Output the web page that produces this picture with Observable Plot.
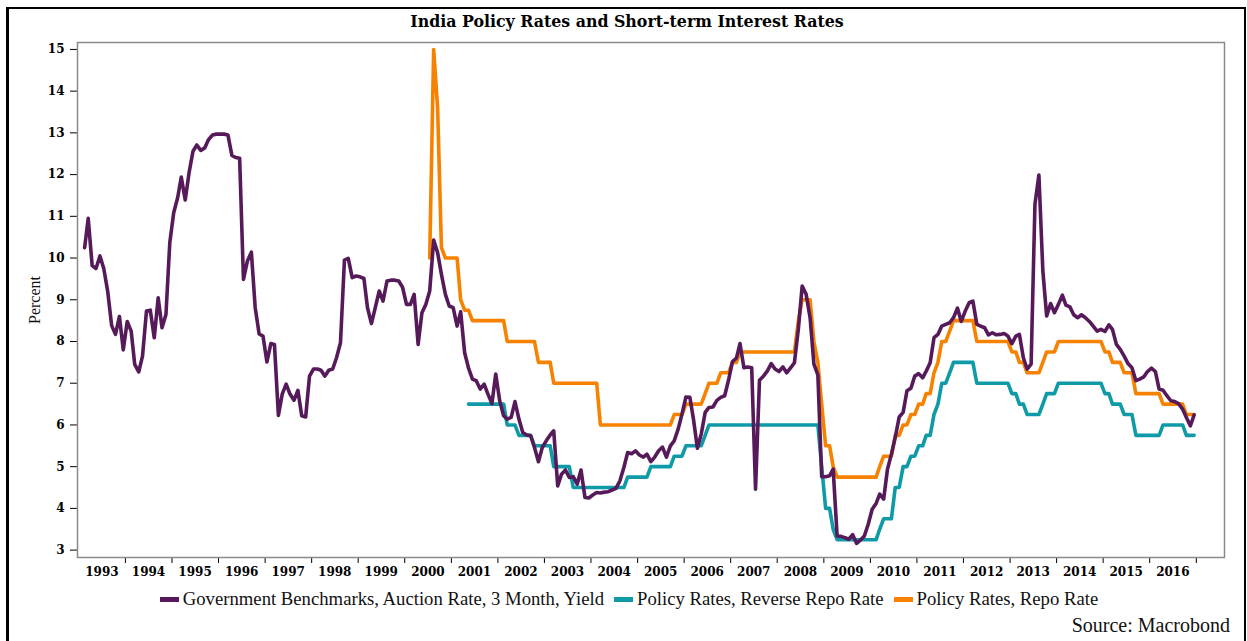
<!DOCTYPE html>
<html>
<head>
<meta charset="utf-8">
<script src="https://cdn.jsdelivr.net/npm/d3@7"></script>
<script src="https://cdn.jsdelivr.net/npm/@observablehq/plot@0.6"></script>
<style>
  html, body { margin: 0; padding: 0; background: #fff; overflow: hidden; }
  #wrap { position: relative; width: 1247px; height: 641px; overflow: hidden; background: #fff; }
  #border { position: absolute; left: 6px; top: 7px; width: 1235px; height: 700px;
            border-left: 3px solid #000; border-top: 2.5px solid #000; border-right: 2.5px solid #000; z-index: 3; }
  #chart { position: absolute; left: 0; top: 0; z-index: 1; }
  #title { position: absolute; top: 12px; left: 0; width: 1254px; text-align: center; z-index: 2;
           font: bold 15.8px "DejaVu Serif", serif; color: #000; white-space: nowrap; }
  #legend { position: absolute; top: 589px; left: 0; width: 1258px; text-align: center; z-index: 2;
            font: 18.7px "Liberation Serif", serif; color: #111; white-space: nowrap; line-height: 20px; }
  #legend .item { display: inline-block; margin: 0 5px; }
  #legend .sw { display: inline-block; width: 19px; height: 5px; margin-right: 4px; vertical-align: middle; position: relative; top: -1px; }
  #source { position: absolute; top: 614px; right: 17px; z-index: 2;
            font: 20px "Liberation Serif", serif; color: #111; white-space: nowrap; }
</style>
</head>
<body>
<div id="wrap">
  <div id="chart"></div>
  <div id="title"></div>
  <div id="legend"></div>
  <div id="source"></div>
  <div id="border"></div>
</div>
<script>
// ---------------- data ----------------
const titleText = "India Policy Rates and Short-term Interest Rates";
const sourceText = "Source: Macrobond";
const yAxisLabel = "Percent";
const seriesNames = [
  "Government Benchmarks, Auction Rate, 3 Month, Yield",
  "Policy Rates, Reverse Repo Rate",
  "Policy Rates, Repo Rate"
];
const seriesColors = ["#561a5a", "#0f9aa8", "#f78200"];

const yTicks = [3, 4, 5, 6, 7, 8, 9, 10, 11, 12, 13, 14, 15];
const yearLabels = ["1993","1994","1995","1996","1997","1998","1999","2000","2001","2002","2003","2004",
                    "2005","2006","2007","2008","2009","2010","2011","2012","2013","2014","2015","2016"];

// 3-month T-bill auction yield, monthly from Feb 1993
const tbillStart = "1993-02";
const tbillValues = [
  10.25, 10.95, 9.82, 9.75, 10.05, 9.75, 9.2, 8.38, 8.17, 8.6, 7.8,
  8.48, 8.25, 7.45, 7.27, 7.65, 8.73, 8.75, 8.09, 9.05, 8.33, 8.65, 10.37,
  11.09, 11.45, 11.94, 11.39, 12.04, 12.56, 12.71, 12.58, 12.64, 12.84, 12.95, 12.97,
  12.97, 12.97, 12.95, 12.46, 12.41, 12.39, 9.49, 9.93, 10.14, 8.81, 8.18, 8.13,
  7.51, 7.95, 7.93, 6.23, 6.74, 6.98, 6.74, 6.59, 6.83, 6.22, 6.19, 7.17,
  7.34, 7.34, 7.31, 7.17, 7.31, 7.34, 7.61, 7.97, 9.95, 9.99, 9.53, 9.57,
  9.55, 9.51, 8.81, 8.43, 8.81, 9.21, 8.97, 9.45, 9.47, 9.47, 9.45, 9.3,
  8.89, 8.89, 9.13, 7.93, 8.69, 8.89, 9.21, 10.43, 10.13, 9.61, 9.13, 8.85,
  8.81, 8.37, 8.71, 7.73, 7.37, 7.10, 7.06, 6.86, 6.98, 6.74, 6.51, 7.22,
  6.58, 6.22, 6.14, 6.18, 6.56, 6.14, 5.82, 5.76, 5.74, 5.46, 5.12, 5.46,
  5.62, 5.76, 5.86, 4.54, 4.82, 4.92, 4.74, 4.76, 4.58, 4.92, 4.26, 4.25,
  4.32, 4.38, 4.37, 4.39, 4.40, 4.44, 4.48, 4.66, 4.98, 5.34, 5.31, 5.38,
  5.28, 5.23, 5.30, 5.12, 5.23, 5.38, 5.47, 5.23, 5.50, 5.62, 5.90, 6.26,
  6.67, 6.66, 6.14, 5.44, 5.78, 6.30, 6.42, 6.43, 6.59, 6.66, 6.70, 7.07,
  7.52, 7.6, 7.95, 7.37, 7.39, 7.37, 4.46, 7.07, 7.17, 7.29, 7.47, 7.34,
  7.28, 7.39, 7.25, 7.37, 7.49, 8.3, 9.33, 9.13, 8.57, 7.46, 7.20, 4.76,
  4.76, 4.78, 4.94, 3.34, 3.33, 3.30, 3.26, 3.37, 3.16, 3.24, 3.34, 3.62,
  3.98, 4.12, 4.34, 4.22, 4.94, 5.3, 5.7, 6.19, 6.30, 6.82, 6.88, 7.17,
  7.23, 7.13, 7.29, 7.49, 8.09, 8.17, 8.37, 8.41, 8.45, 8.57, 8.80, 8.48,
  8.73, 8.93, 8.97, 8.41, 8.37, 8.33, 8.16, 8.21, 8.16, 8.17, 8.19, 8.13,
  7.95, 8.13, 8.17, 7.61, 7.34, 7.46, 11.29, 11.99, 9.69, 8.61, 8.91, 8.69,
  8.89, 9.11, 8.87, 8.83, 8.64, 8.57, 8.64, 8.57, 8.48, 8.37, 8.25, 8.29,
  8.24, 8.40, 8.29, 7.93, 7.81, 7.65, 7.47, 7.37, 7.06, 7.10, 7.15, 7.28,
  7.36, 7.28, 6.86, 6.83, 6.70, 6.58, 6.56, 6.51, 6.38, 6.18, 5.98, 6.24
];

// Reverse repo rate: months where the line has a vertex, and the rate there
const revRepoMonths = [
  "2001-05","2002-02","2002-03","2002-05","2002-06","2002-09","2002-10","2003-02","2003-03","2003-07",
  "2003-08","2004-09","2004-10","2005-03","2005-04","2005-09","2005-10","2005-12","2006-01","2006-05",
  "2006-06","2006-07","2008-11","2008-12","2009-01","2009-02","2009-03","2009-04","2010-02","2010-03",
  "2010-04","2010-06","2010-07","2010-08","2010-09","2010-10","2010-11","2010-12","2011-01","2011-02",
  "2011-03","2011-04","2011-05","2011-06","2011-07","2011-08","2011-09","2011-10","2012-03","2012-04",
  "2012-12","2013-01","2013-02","2013-03","2013-04","2013-05","2013-08","2013-09","2013-10","2013-12",
  "2014-01","2014-12","2015-01","2015-02","2015-03","2015-05","2015-06","2015-08","2015-09","2016-03",
  "2016-04","2016-09","2016-10","2016-12"
];
const revRepoValues = [
  6.5, 6.5, 6.0, 6.0, 5.75, 5.75, 5.5, 5.5, 5.0, 5.0,
  4.5, 4.5, 4.75, 4.75, 5.0, 5.0, 5.25, 5.25, 5.5, 5.5,
  5.75, 6.0, 6.0, 5.0, 4.0, 4.0, 3.5, 3.25, 3.25, 3.5,
  3.75, 3.75, 4.5, 4.5, 5.0, 5.0, 5.25, 5.25, 5.5, 5.5,
  5.75, 5.75, 6.25, 6.5, 7.0, 7.0, 7.25, 7.5, 7.5, 7.0,
  7.0, 6.75, 6.75, 6.5, 6.5, 6.25, 6.25, 6.5, 6.75, 6.75,
  7.0, 7.0, 6.75, 6.75, 6.5, 6.5, 6.25, 6.25, 5.75, 5.75,
  6.0, 6.0, 5.75, 5.75
];

// Repo rate: months where the line has a vertex, and the rate there
const repoMonths = [
  "2000-07","2000-08","2000-09","2000-10","2000-11","2001-02","2001-03","2001-04","2001-05","2001-06",
  "2002-02","2002-03","2002-10","2002-11","2003-02","2003-03","2004-02","2004-03","2005-09","2005-10",
  "2005-12","2006-01","2006-05","2006-06","2006-07","2006-09","2006-10","2006-12","2007-01","2007-02",
  "2007-03","2008-05","2008-06","2008-07","2008-09","2008-10","2008-11","2008-12","2009-01","2009-02",
  "2009-03","2009-04","2010-02","2010-03","2010-04","2010-06","2010-07","2010-08","2010-09","2010-10",
  "2010-11","2010-12","2011-01","2011-02","2011-03","2011-04","2011-05","2011-06","2011-07","2011-08",
  "2011-09","2011-10","2012-03","2012-04","2012-12","2013-01","2013-02","2013-03","2013-04","2013-05",
  "2013-08","2013-09","2013-10","2013-12","2014-01","2014-12","2015-01","2015-02","2015-03","2015-05",
  "2015-06","2015-08","2015-09","2016-03","2016-04","2016-09","2016-10","2016-12"
];
const repoValues = [
  10.0, 15.0, 13.6, 10.25, 10.0, 10.0, 9.0, 8.75, 8.75, 8.5,
  8.5, 8.0, 8.0, 7.5, 7.5, 7.0, 7.0, 6.0, 6.0, 6.25,
  6.25, 6.5, 6.5, 6.75, 7.0, 7.0, 7.25, 7.25, 7.5, 7.5,
  7.75, 7.75, 8.5, 9.0, 9.0, 8.0, 7.5, 6.5, 5.5, 5.5,
  5.0, 4.75, 4.75, 5.0, 5.25, 5.25, 5.75, 5.75, 6.0, 6.0,
  6.25, 6.25, 6.5, 6.5, 6.75, 6.75, 7.25, 7.5, 8.0, 8.0,
  8.25, 8.5, 8.5, 8.0, 8.0, 7.75, 7.75, 7.5, 7.5, 7.25,
  7.25, 7.5, 7.75, 7.75, 8.0, 8.0, 7.75, 7.75, 7.5, 7.5,
  7.25, 7.25, 6.75, 6.75, 6.5, 6.5, 6.25, 6.25
];

// ---------------- build ----------------
const parseMonth = d3.utcParse("%Y-%m");
const midMonth = d => d3.utcDay.offset(d, 14);   // monthly observations sit mid-period

const t0 = parseMonth(tbillStart);
const tbill = tbillValues.map((v, i) => ({date: midMonth(d3.utcMonth.offset(t0, i)), value: v}));
const revRepo = revRepoMonths.map((m, i) => ({date: midMonth(parseMonth(m)), value: revRepoValues[i]}));
const repo = repoMonths.map((m, i) => ({date: midMonth(parseMonth(m)), value: repoValues[i]}));

const yearStarts = yearLabels.map(y => parseMonth(`${+y + 1}-01`));
const yearMids = yearLabels.map(y => parseMonth(`${y}-07`));

const chart = Plot.plot({
  width: 1247,
  height: 600,
  marginTop: 42,
  marginBottom: 43,
  marginLeft: 77,
  marginRight: 23,
  style: {fontFamily: "'DejaVu Serif', serif", fontSize: "12px", fontWeight: "bold", color: "#000",
          background: "transparent", overflow: "visible"},
  x: {type: "utc", domain: [new Date(Date.UTC(1992, 11, 21)), new Date(Date.UTC(2017, 7, 10))]},
  y: {domain: [2.823, 15.166]},
  marks: [
    Plot.axisY(yTicks, {tickSize: 7, tickPadding: 6, label: null, stroke: "#000"}),
    Plot.axisX(yearStarts, {tickSize: 6, tickFormat: () => "", label: null, stroke: "#000"}),
    Plot.axisX(yearMids, {tickSize: 0, tickPadding: 10, tickFormat: d3.utcFormat("%Y"), label: null}),
    Plot.text([yAxisLabel], {frameAnchor: "left", textAnchor: "middle", dx: -43, rotate: -90, fontSize: 16,
                             fontFamily: "'Liberation Serif', serif", fontWeight: "normal", fill: "#111"}),
    Plot.line(repo, {x: "date", y: "value", stroke: seriesColors[2], strokeWidth: 3.6}),
    Plot.line(revRepo, {x: "date", y: "value", stroke: seriesColors[1], strokeWidth: 3.6}),
    Plot.line(tbill, {x: "date", y: "value", stroke: seriesColors[0], strokeWidth: 3.6}),
    Plot.frame({stroke: "#8a8a8a", strokeWidth: 1.5})
  ]
});
document.getElementById("chart").appendChild(chart);

document.getElementById("title").textContent = titleText;
document.getElementById("source").textContent = sourceText;

const legend = document.getElementById("legend");
seriesNames.forEach((name, i) => {
  const item = document.createElement("span");
  item.className = "item";
  const sw = document.createElement("span");
  sw.className = "sw";
  sw.style.background = seriesColors[i];
  item.appendChild(sw);
  item.appendChild(document.createTextNode(name));
  legend.appendChild(item);
});
</script>
</body>
</html>
